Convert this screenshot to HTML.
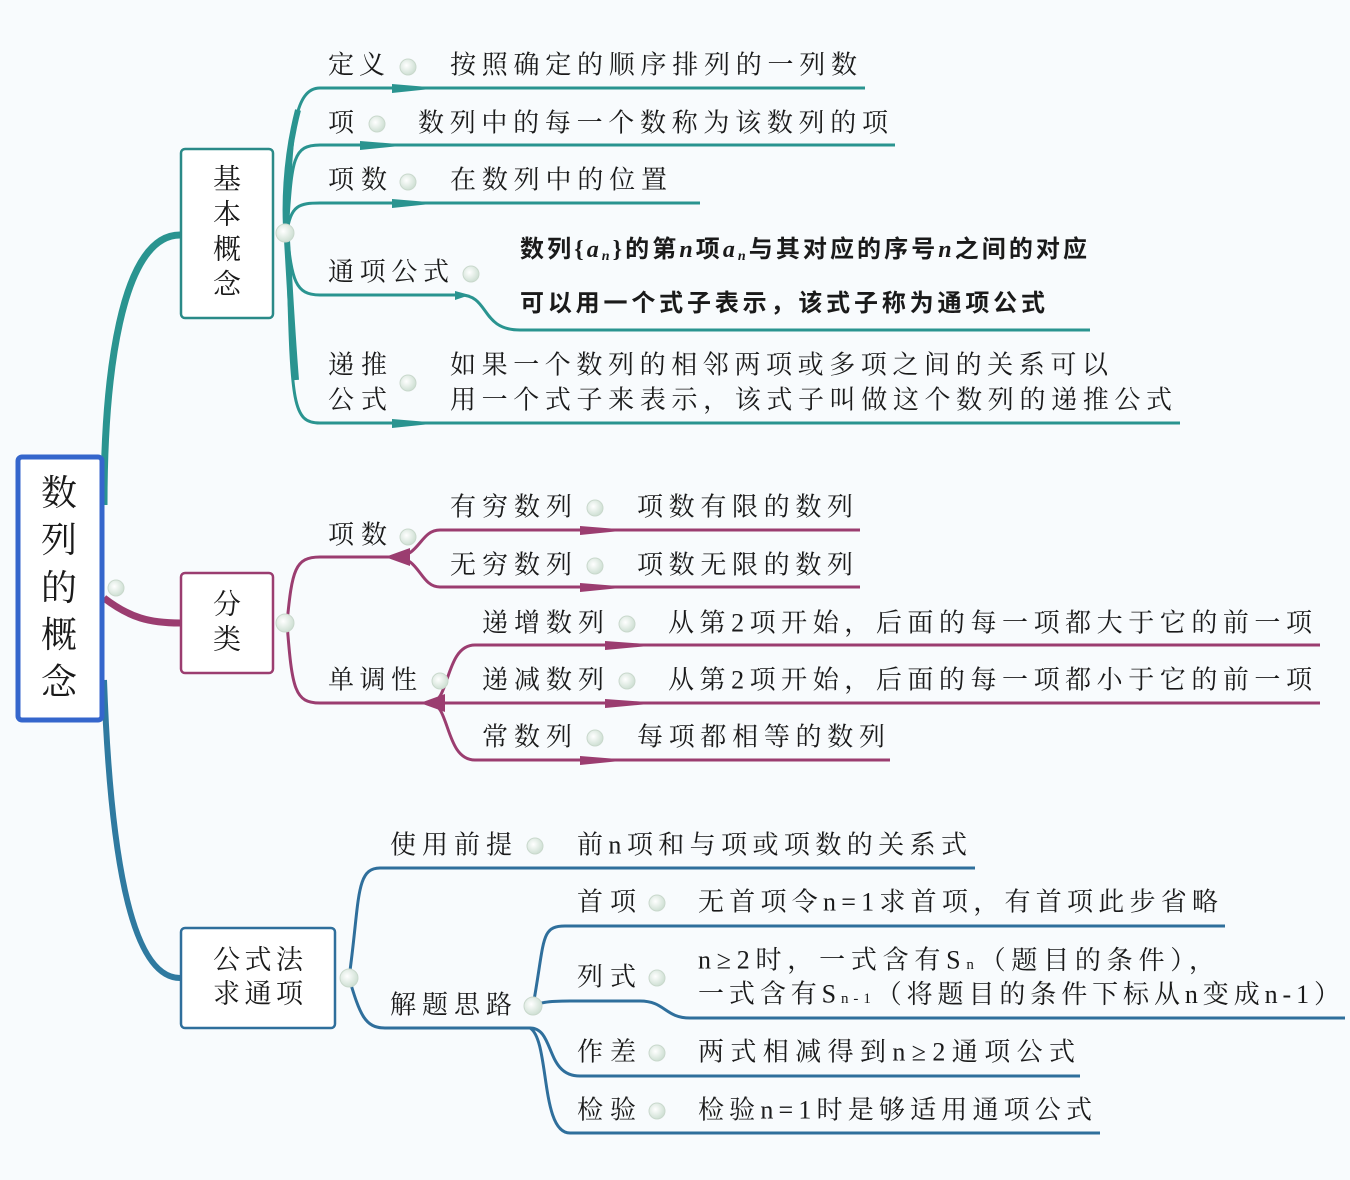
<!DOCTYPE html>
<html><head><meta charset="utf-8"><style>
html,body{margin:0;padding:0;background:#f8fbfd;}
svg{display:block;}
text{font-family:"Liberation Serif","Noto Serif CJK SC","Noto Sans CJK SC",serif;fill:#1a1a1a;dominant-baseline:central;}
.s{font-size:26px;}
.b{font-size:24px;font-weight:bold;font-family:"Liberation Serif","Noto Sans CJK SC",serif;}
</style></head><body>
<svg width="1350" height="1180" viewBox="0 0 1350 1180" xmlns="http://www.w3.org/2000/svg">
<defs>
<radialGradient id="dg" cx="40%" cy="40%" r="60%"><stop offset="0" stop-color="#ffffff"/><stop offset="1" stop-color="#cfe0d4"/></radialGradient>
</defs>
<rect width="1350" height="1180" fill="#f8fbfd"/>

<!-- ===== main connectors ===== -->
<path d="M104,505 C104,380 120,235 180,235" fill="none" stroke="#2a9490" stroke-width="7"/>
<path d="M104,598 C130,618 150,623 180,623" fill="none" stroke="#9b3d70" stroke-width="7"/>
<path d="M104,680 C110,850 130,978 180,978" fill="none" stroke="#2f7aa0" stroke-width="6"/>

<!-- ===== main node ===== -->
<rect x="18" y="457" width="84" height="263" rx="4" fill="#fff" stroke="#3566cc" stroke-width="5"/>
<text x="59" y="493" font-size="36" text-anchor="middle">数</text>
<text x="59" y="540" font-size="36" text-anchor="middle">列</text>
<text x="59" y="588" font-size="36" text-anchor="middle">的</text>
<text x="59" y="635" font-size="36" text-anchor="middle">概</text>
<text x="59" y="682" font-size="36" text-anchor="middle">念</text>
<circle cx="116" cy="588" r="8" fill="url(#dg)" stroke="#c9d8cc"/>

<!-- ===== TOP branch (teal) ===== -->
<g fill="none" stroke="#2a9490">
<path d="M287,233 C292,150 290,88 320,88 L865,88" stroke-width="3"/>
<path d="M287,233 C292,160 292,145 320,145 L895,145" stroke-width="3"/>
<path d="M287,233 C290,205 300,203 320,203 L700,203" stroke-width="3"/>
<path d="M287,233 C292,280 295,295 320,295 L460,295 C490,295 480,330 520,330 L1090,330" stroke-width="3"/>
<path d="M287,233 C292,400 290,423 320,423 L1180,423" stroke-width="3"/>
<path d="M298,110 C285,160 284,210 287,240 C290,290 292,330 296,380" stroke-width="6"/>
</g>
<g fill="#2a9490">
<polygon points="392,84 440,88 392,93"/><polygon points="360,141 410,145 360,150"/>
<polygon points="392,199 440,203 392,208"/><polygon points="455,291 470,295 455,300"/>
<polygon points="392,419 440,423 392,428"/>
</g>
<rect x="181" y="149" width="92" height="169" rx="4" fill="#fff" stroke="#2a8a88" stroke-width="2.5"/>
<text x="227" y="180" font-size="28" text-anchor="middle">基</text>
<text x="227" y="215" font-size="28" text-anchor="middle">本</text>
<text x="227" y="250" font-size="28" text-anchor="middle">概</text>
<text x="227" y="285" font-size="28" text-anchor="middle">念</text>
<circle cx="285" cy="233" r="9" fill="url(#dg)" stroke="#c9d8cc"/>

<text class="s" x="328" y="65" textLength="57" lengthAdjust="spacing">定义</text>
<circle cx="408" cy="67" r="8" fill="url(#dg)" stroke="#c9d8cc"/>
<text class="s" x="450" y="65" textLength="407" lengthAdjust="spacing">按照确定的顺序排列的一列数</text>
<text class="s" x="328" y="123">项</text>
<circle cx="377" cy="124" r="8" fill="url(#dg)" stroke="#c9d8cc"/>
<text class="s" x="418" y="123" textLength="470" lengthAdjust="spacing">数列中的每一个数称为该数列的项</text>
<text class="s" x="328" y="180" textLength="59" lengthAdjust="spacing">项数</text>
<circle cx="408" cy="182" r="8" fill="url(#dg)" stroke="#c9d8cc"/>
<text class="s" x="450" y="180" textLength="217" lengthAdjust="spacing">在数列中的位置</text>
<text class="s" x="328" y="272" textLength="121" lengthAdjust="spacing">通项公式</text>
<circle cx="471" cy="274" r="8" fill="url(#dg)" stroke="#c9d8cc"/>
<text class="b" x="520" y="250" textLength="567" lengthAdjust="spacing">数列{<tspan font-style="italic">a</tspan><tspan font-size="14" font-style="italic" dy="6">n</tspan><tspan dy="-6">}的第</tspan><tspan font-style="italic">n</tspan>项<tspan font-style="italic">a</tspan><tspan font-size="14" font-style="italic" dy="6">n</tspan><tspan dy="-6">与其对应的序号</tspan><tspan font-style="italic">n</tspan>之间的对应</text>
<text class="b" x="520" y="304" textLength="525" lengthAdjust="spacing">可以用一个式子表示，该式子称为通项公式</text>
<text class="s" x="328" y="365" textLength="59" lengthAdjust="spacing">递推</text>
<text class="s" x="328" y="400" textLength="59" lengthAdjust="spacing">公式</text>
<circle cx="408" cy="383" r="8" fill="url(#dg)" stroke="#c9d8cc"/>
<text class="s" x="450" y="365" textLength="658" lengthAdjust="spacing">如果一个数列的相邻两项或多项之间的关系可以</text>
<text class="s" x="450" y="400" textLength="722" lengthAdjust="spacing">用一个式子来表示，该式子叫做这个数列的递推公式</text>

<!-- ===== MIDDLE branch (purple) ===== -->
<g fill="none" stroke="#9b3d70" stroke-width="3">
<path d="M287,623 C292,570 295,557 320,557 L395,557"/>
<path d="M287,623 C292,690 295,703 320,703 L440,703"/>
<path d="M395,557 C420,557 420,530 440,530 L860,530"/>
<path d="M395,557 C420,557 420,587 440,587 L860,587"/>
<path d="M430,703 C450,703 445,645 475,645 L1320,645"/>
<path d="M430,703 L1320,703"/>
<path d="M430,703 C450,703 445,760 475,760 L890,760"/>
</g>
<g fill="#9b3d70">
<polygon points="580,526 630,530 580,535"/><polygon points="580,583 630,587 580,592"/>
<polygon points="605,641 660,645 605,650"/><polygon points="605,699 660,703 605,708"/>
<polygon points="580,756 630,760 580,765"/>
<polygon points="385,557 410,548 410,566"/><polygon points="420,703 445,694 445,712"/>
</g>
<rect x="181" y="573" width="92" height="100" rx="4" fill="#fff" stroke="#9b3d70" stroke-width="2.5"/>
<text x="227" y="605" font-size="28" text-anchor="middle">分</text>
<text x="227" y="640" font-size="28" text-anchor="middle">类</text>
<circle cx="285" cy="623" r="9" fill="url(#dg)" stroke="#c9d8cc"/>

<text class="s" x="328" y="535" textLength="59" lengthAdjust="spacing">项数</text>
<circle cx="408" cy="537" r="8" fill="url(#dg)" stroke="#c9d8cc"/>
<text class="s" x="328" y="680" textLength="89" lengthAdjust="spacing">单调性</text>
<circle cx="440" cy="681" r="8" fill="url(#dg)" stroke="#c9d8cc"/>
<text class="s" x="450" y="507" textLength="122" lengthAdjust="spacing">有穷数列</text>
<circle cx="595" cy="508" r="8" fill="url(#dg)" stroke="#c9d8cc"/>
<text class="s" x="637" y="507" textLength="216" lengthAdjust="spacing">项数有限的数列</text>
<text class="s" x="450" y="565" textLength="122" lengthAdjust="spacing">无穷数列</text>
<circle cx="595" cy="566" r="8" fill="url(#dg)" stroke="#c9d8cc"/>
<text class="s" x="637" y="565" textLength="216" lengthAdjust="spacing">项数无限的数列</text>
<text class="s" x="482" y="623" textLength="122" lengthAdjust="spacing">递增数列</text>
<circle cx="627" cy="624" r="8" fill="url(#dg)" stroke="#c9d8cc"/>
<text class="s" x="668" y="623" textLength="644" lengthAdjust="spacing">从第2项开始，后面的每一项都大于它的前一项</text>
<text class="s" x="482" y="680" textLength="122" lengthAdjust="spacing">递减数列</text>
<circle cx="627" cy="681" r="8" fill="url(#dg)" stroke="#c9d8cc"/>
<text class="s" x="668" y="680" textLength="644" lengthAdjust="spacing">从第2项开始，后面的每一项都小于它的前一项</text>
<text class="s" x="482" y="737" textLength="90" lengthAdjust="spacing">常数列</text>
<circle cx="595" cy="738" r="8" fill="url(#dg)" stroke="#c9d8cc"/>
<text class="s" x="637" y="737" textLength="248" lengthAdjust="spacing">每项都相等的数列</text>

<!-- ===== BOTTOM branch (blue) ===== -->
<g fill="none" stroke="#2f6f9c" stroke-width="3">
<path d="M349,978 C360,900 355,868 380,868 L975,868"/>
<path d="M349,978 C360,1015 365,1028 385,1028 L530,1028"/>
<path d="M533,1006 C545,940 540,926 565,926 L1225,926"/>
<path d="M533,1006 C540,1003 545,1001 570,1001 L640,1001 C665,1001 665,1018 690,1018 L1345,1018"/>
<path d="M530,1028 C555,1028 545,1076 580,1076 L1080,1076"/>
<path d="M530,1028 C550,1040 540,1133 570,1133 L1100,1133"/>
</g>
<rect x="181" y="928" width="154" height="100" rx="4" fill="#fff" stroke="#2f6f9c" stroke-width="2.5"/>
<text x="258" y="960" font-size="27" text-anchor="middle" textLength="90" lengthAdjust="spacing">公式法</text>
<text x="258" y="994" font-size="27" text-anchor="middle" textLength="90" lengthAdjust="spacing">求通项</text>
<circle cx="349" cy="978" r="9" fill="url(#dg)" stroke="#c9d8cc"/>

<text class="s" x="390" y="845" textLength="122" lengthAdjust="spacing">使用前提</text>
<circle cx="535" cy="846" r="8" fill="url(#dg)" stroke="#c9d8cc"/>
<text class="s" x="577" y="845" textLength="390" lengthAdjust="spacing">前n项和与项或项数的关系式</text>
<text class="s" x="390" y="1005" textLength="122" lengthAdjust="spacing">解题思路</text>
<circle cx="533" cy="1006" r="9" fill="url(#dg)" stroke="#c9d8cc"/>
<text class="s" x="577" y="902" textLength="59" lengthAdjust="spacing">首项</text>
<circle cx="657" cy="903" r="8" fill="url(#dg)" stroke="#c9d8cc"/>
<text class="s" x="698" y="902" textLength="520" lengthAdjust="spacing">无首项令n=1求首项，有首项此步省略</text>
<text class="s" x="577" y="977" textLength="59" lengthAdjust="spacing">列式</text>
<circle cx="657" cy="978" r="8" fill="url(#dg)" stroke="#c9d8cc"/>
<text class="s" x="698" y="960" textLength="517" lengthAdjust="spacing">n≥2时，一式含有S<tspan font-size="15" dy="5">n</tspan><tspan dy="-5">（题目的条件），</tspan></text>
<text class="s" x="698" y="994" textLength="642" lengthAdjust="spacing">一式含有S<tspan font-size="15" dy="5">n-1</tspan><tspan dy="-5">（将题目的条件下标从n变成n-1）</tspan></text>
<text class="s" x="577" y="1052" textLength="59" lengthAdjust="spacing">作差</text>
<circle cx="657" cy="1053" r="8" fill="url(#dg)" stroke="#c9d8cc"/>
<text class="s" x="698" y="1052" textLength="377" lengthAdjust="spacing">两式相减得到n≥2通项公式</text>
<text class="s" x="577" y="1110" textLength="59" lengthAdjust="spacing">检验</text>
<circle cx="657" cy="1111" r="8" fill="url(#dg)" stroke="#c9d8cc"/>
<text class="s" x="698" y="1110" textLength="394" lengthAdjust="spacing">检验n=1时是够适用通项公式</text>
</svg>
</body></html>
